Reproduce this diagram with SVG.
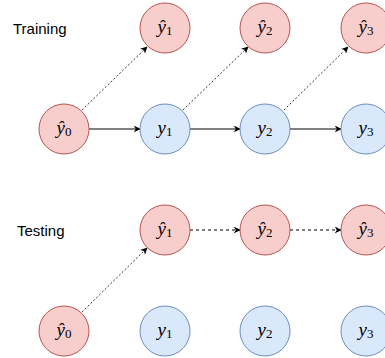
<svg xmlns="http://www.w3.org/2000/svg" width="385" height="358" viewBox="0 0 385 358">
<defs>
<marker id="arr" viewBox="0 0 10 10" refX="9" refY="5" markerWidth="7" markerHeight="7" markerUnits="userSpaceOnUse" orient="auto">
<path d="M0,0 L10,5 L0,10 L3,5 Z" fill="#000"/>
</marker>
<style>
.pred{fill:#f8cecc;stroke:#b85450;stroke-width:1}
.gt{fill:#dae8fc;stroke:#6c8ebf;stroke-width:1}
.lbl{font-family:"Liberation Serif","DejaVu Serif",serif;font-style:italic;font-size:19px;fill:#000;text-anchor:middle}
.sub{font-style:normal;font-size:13px}
.title{font-family:"Liberation Sans",Arial,sans-serif;font-size:15px;fill:#000}
.solid{stroke:#000;stroke-width:1;fill:none;marker-end:url(#arr)}
.dot{stroke:#333;stroke-width:1;fill:none;stroke-dasharray:2 2;marker-end:url(#arr)}
.dash{stroke:#000;stroke-width:1;fill:none;stroke-dasharray:3 3;marker-end:url(#arr)}
</style>
</defs>
<text class="title" x="13" y="34">Training</text>
<text class="title" x="17" y="236">Testing</text>
<g id="connectors">
<line class="solid" x1="89" y1="129" x2="140" y2="129"/>
<line class="solid" x1="190" y1="129" x2="240" y2="129"/>
<line class="solid" x1="290" y1="129" x2="341" y2="129"/>
<line class="dot" x1="82" y1="110" x2="147" y2="47"/>
<line class="dot" x1="183" y1="110" x2="248" y2="47"/>
<line class="dot" x1="284" y1="110" x2="348" y2="47"/>
<line class="dot" x1="82" y1="312" x2="147" y2="248"/>
<line class="dash" x1="190" y1="230" x2="240" y2="230"/>
<line class="dash" x1="290" y1="230" x2="341" y2="230"/>
</g>
<g id="tr_yhat1"><circle class="pred" cx="165" cy="28" r="25"/><text class="lbl" x="165" y="33">ŷ<tspan class="sub" dy="2">1</tspan></text></g>
<g id="tr_yhat2"><circle class="pred" cx="265" cy="28" r="25"/><text class="lbl" x="265" y="33">ŷ<tspan class="sub" dy="2">2</tspan></text></g>
<g id="tr_yhat3"><circle class="pred" cx="366" cy="28" r="25"/><text class="lbl" x="366" y="33">ŷ<tspan class="sub" dy="2">3</tspan></text></g>
<g id="tr_yhat0"><circle class="pred" cx="64" cy="129" r="25"/><text class="lbl" x="64" y="134">ŷ<tspan class="sub" dy="2">0</tspan></text></g>
<g id="tr_y1"><circle class="gt" cx="165" cy="129" r="25"/><text class="lbl" x="165" y="134">y<tspan class="sub" dy="2">1</tspan></text></g>
<g id="tr_y2"><circle class="gt" cx="265" cy="129" r="25"/><text class="lbl" x="265" y="134">y<tspan class="sub" dy="2">2</tspan></text></g>
<g id="tr_y3"><circle class="gt" cx="366" cy="129" r="25"/><text class="lbl" x="366" y="134">y<tspan class="sub" dy="2">3</tspan></text></g>
<g id="te_yhat1"><circle class="pred" cx="165" cy="230" r="25"/><text class="lbl" x="165" y="235">ŷ<tspan class="sub" dy="2">1</tspan></text></g>
<g id="te_yhat2"><circle class="pred" cx="265" cy="230" r="25"/><text class="lbl" x="265" y="235">ŷ<tspan class="sub" dy="2">2</tspan></text></g>
<g id="te_yhat3"><circle class="pred" cx="366" cy="230" r="25"/><text class="lbl" x="366" y="235">ŷ<tspan class="sub" dy="2">3</tspan></text></g>
<g id="te_yhat0"><circle class="pred" cx="64" cy="331" r="25"/><text class="lbl" x="64" y="336">ŷ<tspan class="sub" dy="2">0</tspan></text></g>
<g id="te_y1"><circle class="gt" cx="165" cy="331" r="25"/><text class="lbl" x="165" y="336">y<tspan class="sub" dy="2">1</tspan></text></g>
<g id="te_y2"><circle class="gt" cx="265" cy="331" r="25"/><text class="lbl" x="265" y="336">y<tspan class="sub" dy="2">2</tspan></text></g>
<g id="te_y3"><circle class="gt" cx="366" cy="331" r="25"/><text class="lbl" x="366" y="336">y<tspan class="sub" dy="2">3</tspan></text></g>
</svg>
